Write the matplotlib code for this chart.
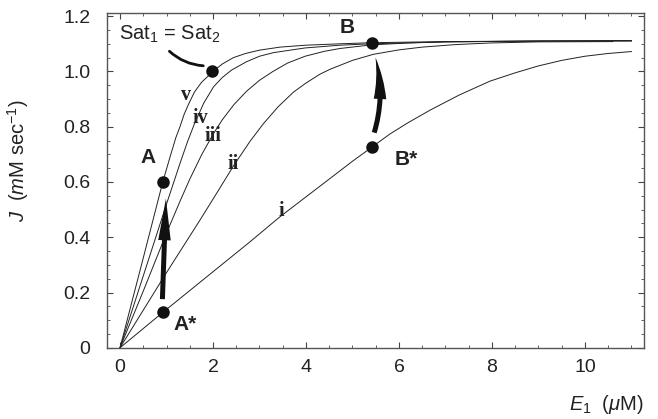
import numpy as np
import matplotlib.pyplot as plt
from matplotlib.patches import FancyArrowPatch

plt.rcParams['font.family'] = ['Liberation Sans', 'DejaVu Sans']
plt.rcParams['mathtext.fontset'] = 'custom'
plt.rcParams['mathtext.rm'] = 'Liberation Sans'
plt.rcParams['mathtext.it'] = 'Liberation Sans:italic'
plt.rcParams['mathtext.bf'] = 'Liberation Sans:bold'

# curves (E1 in uM, J in mM/s)
x_i = [0, 0.92, 2.8, 3.44, 4.52, 5.0, 5.41, 5.8, 6.2, 6.67, 7.3, 7.96, 8.5, 9.0, 9.5, 10.0, 10.5, 11]
y_i = [0, 0.128, 0.384, 0.474, 0.613, 0.675, 0.725, 0.773, 0.815, 0.86, 0.915, 0.965, 0.995, 1.02, 1.04, 1.055, 1.065, 1.072]

x_ii = [0, 1.0, 1.72, 2.1, 2.44, 2.8, 3.08, 3.4, 3.73, 4.0, 4.3, 4.52, 5.0, 5.45, 6.0, 6.5, 7.2, 7.96, 9.0, 10.6]
y_ii = [0, 0.272, 0.462, 0.565, 0.658, 0.748, 0.81, 0.872, 0.925, 0.958, 0.99, 1.008, 1.04, 1.062, 1.078, 1.088, 1.097, 1.103, 1.107, 1.108]

x_iii = [0, 0.5, 1.0, 1.29, 1.5, 1.76, 2.01, 2.2, 2.45, 2.72, 3.0, 3.29, 3.6, 3.98, 4.4, 4.73, 5.4, 6.2, 7, 9, 11]
y_iii = [0, 0.205, 0.415, 0.53, 0.61, 0.70, 0.775, 0.825, 0.88, 0.928, 0.968, 1.0, 1.03, 1.055, 1.073, 1.083, 1.096, 1.103, 1.107, 1.11, 1.11]

x_iv = [0, 0.5, 1.0, 1.29, 1.45, 1.6, 1.8, 2.01, 2.2, 2.4, 2.72, 3.0, 3.3, 3.98, 4.73, 5.4, 7, 9, 11]
y_iv = [0, 0.26, 0.52, 0.667, 0.745, 0.81, 0.885, 0.944, 0.978, 1.005, 1.035, 1.055, 1.068, 1.085, 1.095, 1.1, 1.107, 1.11, 1.111]

x_v = [0, 0.5, 0.92, 1.075, 1.2, 1.29, 1.38, 1.47, 1.6, 1.75, 2.0, 2.2, 2.44, 2.7, 3.0, 3.44, 4.0, 4.73, 5.41, 7, 9, 11]
y_v = [0, 0.325, 0.6, 0.69, 0.76, 0.80, 0.845, 0.88, 0.925, 0.96, 1.0, 1.027, 1.05, 1.065, 1.077, 1.088, 1.095, 1.1, 1.104, 1.108, 1.11, 1.112]

curve_x = [x_i, x_ii, x_iii, x_iv, x_v]
curve_y = [y_i, y_ii, y_iii, y_iv, y_v]
curve_names = ['i', 'ii', 'iii', 'iv', 'v']
name_pos = [(3.46, 0.494), (2.43, 0.664), (2.0, 0.765), (1.72, 0.83), (1.43, 0.914)]

# marked points
pt_x = [0.92, 0.92, 5.41, 5.41, 1.97]
pt_y = [0.6, 0.128, 1.103, 0.725, 1.0]

fig = plt.figure(figsize=(6.58, 4.19), dpi=100)
ax = fig.add_axes([0.1626, 0.170, 0.8161, 0.798])

for xs, ys in zip(curve_x, curve_y):
    ax.plot(xs, ys, color='#222222', lw=0.7)

for name, (lx, ly) in zip(curve_names, name_pos):
    ax.text(lx, ly, name, family='Liberation Serif', fontweight='bold',
            fontsize=14.5, ha='center', va='center', color='#222222')

ax.plot(pt_x, pt_y, 'o', color='#111111', ms=8, zorder=5)

lab = dict(fontsize=15, fontweight='bold', color='#222222', ha='center', va='center')
ax.text(0.6, 0.69, 'A', **lab)
ax.text(1.4, 0.085, 'A*', **lab)
ax.text(4.88, 1.16, 'B', **lab)
ax.text(6.15, 0.68, 'B*', **lab)

ax.text(1.06, 1.135, r'Sat$_{\mathit{1}}$ = Sat$_{2}$', fontsize=14.5,
        ha='center', va='center', color='#222222')
ax.add_patch(FancyArrowPatch((1.02, 1.08), (1.85, 1.02), arrowstyle='-',
                             connectionstyle='arc3,rad=0.2', lw=2.0, color='#111111'))

arr = 'simple,head_length=30,head_width=9,tail_width=3.6'
ax.add_patch(FancyArrowPatch((0.91, 0.166), (0.99, 0.55), arrowstyle=arr,
                             mutation_scale=1, color='#111111', lw=0, zorder=4))
ax.add_patch(FancyArrowPatch((5.45, 0.769), (5.48, 1.06), arrowstyle=arr,
                             connectionstyle='arc3,rad=0.15',
                             mutation_scale=1, color='#111111', lw=0, zorder=4))

ax.set_xlim(-0.28, 11.27)
ax.set_ylim(0, 1.21)
ax.set_xticks([0, 2, 4, 6, 8, 10])
ax.set_xticks(np.arange(0, 11.1, 0.5), minor=True)
ax.set_yticks([0, 0.2, 0.4, 0.6, 0.8, 1.0, 1.2])
ax.set_yticklabels(['0', '0.2', '0.4', '0.6', '0.8', '1.0', '1.2'])
ax.set_yticks(np.arange(0, 1.21, 0.05), minor=True)
ax.tick_params(which='both', direction='in', top=True, right=True,
               labelsize=14, colors='#444444', labelcolor='#222222')
ax.tick_params(axis='x', which='major', pad=8)
ax.tick_params(axis='y', which='major', pad=12)
ax.tick_params(which='major', length=4, width=0.8)
ax.tick_params(which='minor', length=2.5, width=0.6)
for s in ax.spines.values():
    s.set_color('#555555')
    s.set_linewidth(1.0)

ax.set_xlabel(r'$E_{\mathit{1}}$  ($\mu$M)', fontsize=14.5, loc='right', labelpad=12, color='#222222')
ax.set_ylabel(r'$J$  ($m$M sec$^{-1}$)', fontsize=14.5, color='#222222')
ax.yaxis.set_label_coords(-0.142, 0.56)

fig.savefig('out.png', dpi=100)
